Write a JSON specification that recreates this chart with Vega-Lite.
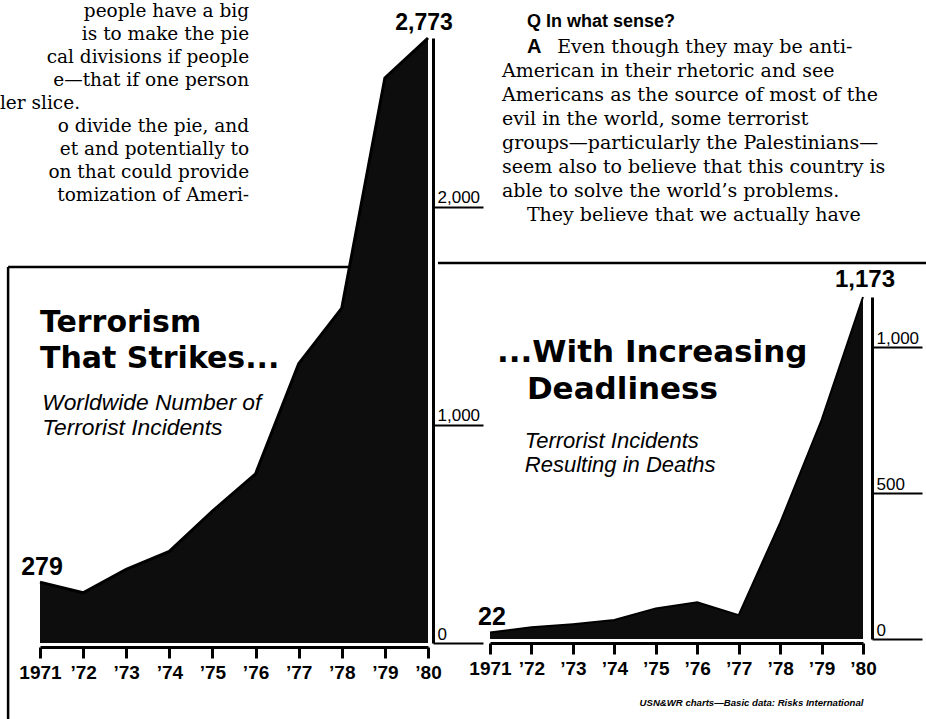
{
  "$schema": "https://vega.github.io/schema/vega-lite/v6.json",
  "width": 926,
  "height": 719,
  "autosize": {"type": "none"},
  "padding": 0,
  "background": "white",
  "config": {
    "view": {"stroke": null},
    "font": "Liberation Sans",
    "text": {"color": "black", "font": "Liberation Sans"}
  },
  "datasets": {
    "incidents": [
      {"year": 1971, "value": 279},
      {"year": 1972, "value": 230},
      {"year": 1973, "value": 338},
      {"year": 1974, "value": 420},
      {"year": 1975, "value": 605},
      {"year": 1976, "value": 775},
      {"year": 1977, "value": 1280},
      {"year": 1978, "value": 1535},
      {"year": 1979, "value": 2590},
      {"year": 1980, "value": 2773}
    ],
    "deaths": [
      {"year": 1971, "value": 22},
      {"year": 1972, "value": 40},
      {"year": 1973, "value": 51},
      {"year": 1974, "value": 65},
      {"year": 1975, "value": 105},
      {"year": 1976, "value": 126},
      {"year": 1977, "value": 82},
      {"year": 1978, "value": 398},
      {"year": 1979, "value": 751},
      {"year": 1980, "value": 1173}
    ]
  },
  "layer": [
    {
      "data": {"name": "incidents"},
      "encoding": {
        "x": {
          "field": "year", "type": "quantitative",
          "scale": {"domain": [1971, 1980], "range": [40, 428], "nice": false, "zero": false},
          "axis": {
            "orient": "bottom", "offset": -72, "title": null, "grid": false,
            "values": [1971, 1972, 1973, 1974, 1975, 1976, 1977, 1978, 1979, 1980],
            "format": "d",
            "labelExpr": "datum.value == 1971 ? datum.label : '’' + slice(datum.label, 2)",
            "domainColor": "black", "domainWidth": 3,
            "tickColor": "black", "tickWidth": 3, "tickSize": 11,
            "labelFont": "Liberation Sans", "labelFontSize": 19, "labelFontWeight": "bold",
            "labelColor": "black", "labelPadding": 5, "labelFlush": false, "labelOverlap": false
          }
        },
        "y": {
          "field": "value", "type": "quantitative",
          "scale": {"domain": [0, 2773], "range": [643, 38], "nice": false, "zero": true},
          "axis": {
            "orient": "right", "offset": -493, "title": null, "grid": false,
            "values": [0, 1000, 2000], "format": ",d",
            "domainColor": "black", "domainWidth": 3,
            "tickColor": "black", "tickWidth": 2, "tickSize": 50,
            "labelPadding": -46, "labelAlign": "left", "labelBaseline": "alphabetic", "labelOffset": -4,
            "labelFont": "Liberation Sans", "labelFontSize": 17, "labelColor": "black",
            "labelFlush": false, "labelOverlap": false
          }
        }
      },
      "layer": [
        {
          "transform": [{"filter": "datum.year == 1971"}],
          "mark": {"type": "rule", "color": "black", "strokeWidth": 2.5},
          "encoding": {"x": {"datum": 1970.26}, "x2": {"datum": 1978.2}, "y": {"datum": 1723}}
        },
        {
          "transform": [{"filter": "datum.year == 1971"}],
          "mark": {"type": "rule", "color": "black", "strokeWidth": 2.5},
          "encoding": {"x": {"datum": 1970.26}, "y": {"datum": 1723}, "y2": {"datum": -360}}
        },
        {
          "mark": {"type": "area", "color": "#0d0d0d", "opacity": 1, "fillOpacity": 1, "line": {"color": "black", "strokeWidth": 3}}
        },
        {
          "transform": [{"filter": "datum.year == 1971"}],
          "mark": {"type": "text", "fontSize": 25, "fontWeight": "bold", "align": "center", "baseline": "alphabetic", "dx": 2, "dy": -7},
          "encoding": {"text": {"field": "value", "type": "quantitative", "format": ",d"}}
        },
        {
          "transform": [{"filter": "datum.year == 1980"}],
          "mark": {"type": "text", "fontSize": 23, "fontWeight": "bold", "align": "center", "baseline": "alphabetic", "dx": -4, "dy": -8},
          "encoding": {"text": {"field": "value", "type": "quantitative", "format": ",d"}}
        },
        {
          "transform": [{"filter": "datum.year == 1971"}],
          "mark": {"type": "text", "text": ["Terrorism", "That Strikes..."], "align": "left", "baseline": "alphabetic", "font": "DejaVu Sans", "fontSize": 30, "fontWeight": "bold", "lineHeight": 36},
          "encoding": {"x": {"datum": 1971}, "y": {"datum": 1425}}
        },
        {
          "transform": [{"filter": "datum.year == 1971"}],
          "mark": {"type": "text", "text": ["Worldwide Number of", "Terrorist Incidents"], "align": "left", "baseline": "alphabetic", "fontSize": 22.8, "fontStyle": "italic", "lineHeight": 25},
          "encoding": {"x": {"datum": 1971.05}, "y": {"datum": 1068}}
        },
        {
          "transform": [{"filter": "datum.year == 1971"}],
          "mark": {"type": "text", "text": ["people have a big", "is to make the pie", "cal divisions if people", "e—that if one person"], "align": "right", "baseline": "alphabetic", "font": "DejaVu Serif", "fontSize": 18.5, "lineHeight": 23},
          "encoding": {"x": {"datum": 1975.85}, "y": {"datum": 2869.3}}
        },
        {
          "transform": [{"filter": "datum.year == 1971"}],
          "mark": {"type": "text", "text": "ler slice.", "align": "left", "baseline": "alphabetic", "font": "DejaVu Serif", "fontSize": 18.5},
          "encoding": {"x": {"datum": 1970.07}, "y": {"datum": 2447.6}}
        },
        {
          "transform": [{"filter": "datum.year == 1971"}],
          "mark": {"type": "text", "text": ["o divide the pie, and", "et and potentially to", "on that could provide", "tomization of Ameri-"], "align": "right", "baseline": "alphabetic", "font": "DejaVu Serif", "fontSize": 18.5, "lineHeight": 23},
          "encoding": {"x": {"datum": 1975.85}, "y": {"datum": 2342.2}}
        }
      ]
    },
    {
      "data": {"name": "deaths"},
      "encoding": {
        "x": {
          "field": "year", "type": "quantitative",
          "scale": {"domain": [1971, 1980], "range": [490, 863], "nice": false, "zero": false},
          "axis": {
            "orient": "bottom", "offset": -76, "grid": false,
            "title": "USN&WR charts—Basic data: Risks International",
            "titleAnchor": "end", "titleFont": "Liberation Sans", "titleFontSize": 9.6,
            "titleFontStyle": "italic", "titleFontWeight": "bold", "titleColor": "black", "titlePadding": 19,
            "values": [1971, 1972, 1973, 1974, 1975, 1976, 1977, 1978, 1979, 1980],
            "format": "d",
            "labelExpr": "datum.value == 1971 ? datum.label : '’' + slice(datum.label, 2)",
            "domainColor": "black", "domainWidth": 3,
            "tickColor": "black", "tickWidth": 3, "tickSize": 11,
            "labelFont": "Liberation Sans", "labelFontSize": 19, "labelFontWeight": "bold",
            "labelColor": "black", "labelPadding": 5, "labelFlush": false, "labelOverlap": false
          }
        },
        "y": {
          "field": "value", "type": "quantitative",
          "scale": {"domain": [0, 1173], "range": [639, 297], "nice": false, "zero": true},
          "axis": {
            "orient": "right", "offset": -54, "title": null, "grid": false,
            "values": [0, 500, 1000], "format": ",d",
            "domainColor": "black", "domainWidth": 3,
            "tickColor": "black", "tickWidth": 2, "tickSize": 50,
            "labelPadding": -46, "labelAlign": "left", "labelBaseline": "alphabetic", "labelOffset": -4,
            "labelFont": "Liberation Sans", "labelFontSize": 17, "labelColor": "black",
            "labelFlush": false, "labelOverlap": false
          }
        }
      },
      "layer": [
        {
          "transform": [{"filter": "datum.year == 1971"}],
          "mark": {"type": "rule", "color": "black", "strokeWidth": 2.5},
          "encoding": {"x": {"datum": 1969.745}, "x2": {"datum": 1981.6}, "y": {"datum": 1289.6}}
        },
        {
          "mark": {"type": "area", "color": "#0d0d0d", "opacity": 1, "fillOpacity": 1, "line": {"color": "black", "strokeWidth": 2}}
        },
        {
          "transform": [{"filter": "datum.year == 1971"}],
          "mark": {"type": "text", "fontSize": 25, "fontWeight": "bold", "align": "center", "baseline": "alphabetic", "dx": 2, "dy": -8},
          "encoding": {"text": {"field": "value", "type": "quantitative", "format": ",d"}}
        },
        {
          "transform": [{"filter": "datum.year == 1980"}],
          "mark": {"type": "text", "fontSize": 24, "fontWeight": "bold", "align": "center", "baseline": "alphabetic", "dx": 2, "dy": -10},
          "encoding": {"text": {"field": "value", "type": "quantitative", "format": ",d"}}
        },
        {
          "transform": [{"filter": "datum.year == 1971"}],
          "mark": {"type": "text", "text": "...With Increasing", "align": "left", "baseline": "alphabetic", "font": "DejaVu Sans", "fontSize": 31, "fontWeight": "bold"},
          "encoding": {"x": {"datum": 1971.17}, "y": {"datum": 950}}
        },
        {
          "transform": [{"filter": "datum.year == 1971"}],
          "mark": {"type": "text", "text": "Deadliness", "align": "left", "baseline": "alphabetic", "font": "DejaVu Sans", "fontSize": 31, "fontWeight": "bold"},
          "encoding": {"x": {"datum": 1971.89}, "y": {"datum": 823.2}}
        },
        {
          "transform": [{"filter": "datum.year == 1971"}],
          "mark": {"type": "text", "text": ["Terrorist Incidents", "Resulting in Deaths"], "align": "left", "baseline": "alphabetic", "fontSize": 22, "fontStyle": "italic", "lineHeight": 24},
          "encoding": {"x": {"datum": 1971.84}, "y": {"datum": 655}}
        },
        {
          "transform": [{"filter": "datum.year == 1971"}],
          "mark": {"type": "text", "text": "Q  In what sense?", "align": "left", "baseline": "alphabetic", "fontSize": 18, "fontWeight": "bold"},
          "encoding": {"x": {"datum": 1971.89}, "y": {"datum": 2099}}
        },
        {
          "transform": [{"filter": "datum.year == 1971"}],
          "mark": {"type": "text", "text": "A", "align": "left", "baseline": "alphabetic", "fontSize": 20, "fontWeight": "bold"},
          "encoding": {"x": {"datum": 1971.89}, "y": {"datum": 2010}}
        },
        {
          "transform": [{"filter": "datum.year == 1971"}],
          "mark": {"type": "text", "text": "Even though they may be anti-", "align": "left", "baseline": "alphabetic", "font": "DejaVu Serif", "fontSize": 19},
          "encoding": {"x": {"datum": 1972.62}, "y": {"datum": 2010}}
        },
        {
          "transform": [{"filter": "datum.year == 1971"}],
          "mark": {"type": "text", "text": ["American in their rhetoric and see", "Americans as the source of most of the", "evil in the world, some terrorist", "groups—particularly the Palestinians—", "seem also to believe that this country is", "able to solve the world’s problems."], "align": "left", "baseline": "alphabetic", "font": "DejaVu Serif", "fontSize": 19, "lineHeight": 24},
          "encoding": {"x": {"datum": 1971.29}, "y": {"datum": 1927.6}}
        },
        {
          "transform": [{"filter": "datum.year == 1971"}],
          "mark": {"type": "text", "text": "They believe that we actually have", "align": "left", "baseline": "alphabetic", "font": "DejaVu Serif", "fontSize": 19},
          "encoding": {"x": {"datum": 1971.89}, "y": {"datum": 1433.7}}
        }
      ]
    }
  ],
  "resolve": {"scale": {"x": "independent", "y": "independent"}}
}
